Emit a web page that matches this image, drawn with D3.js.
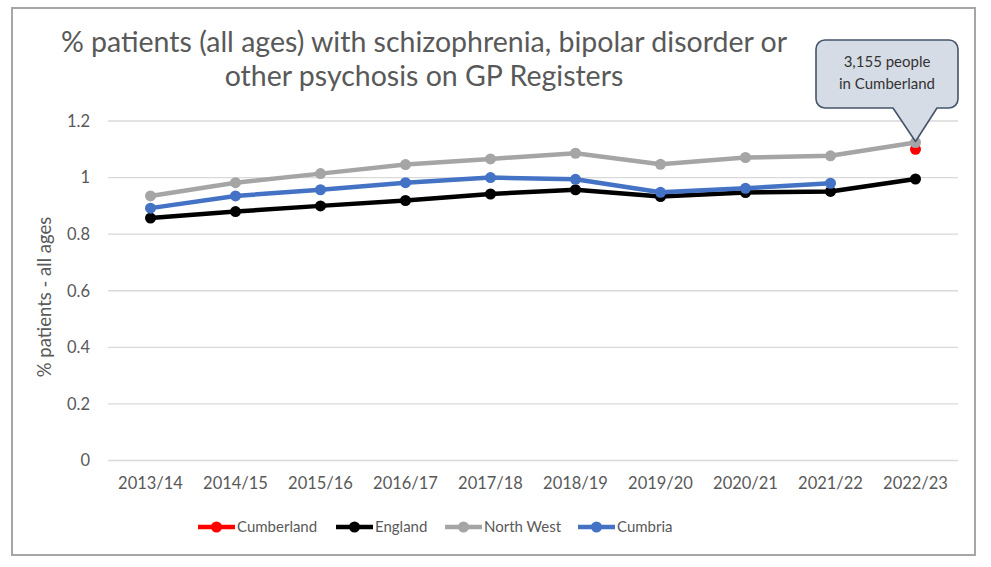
<!DOCTYPE html>
<html><head><meta charset="utf-8">
<script src="https://cdn.jsdelivr.net/npm/d3@7"></script>
<style>body{margin:0;background:#fff}svg{display:block}</style>
</head><body>
<svg id="chart" width="991" height="567"></svg>
<script>
const categories = ["2013/14","2014/15","2015/16","2016/17","2017/18","2018/19","2019/20","2020/21","2021/22","2022/23"];
const cumberland = [null,null,null,null,null,null,null,null,null,1.10];
const england    = [0.857,0.880,0.900,0.919,0.942,0.957,0.933,0.947,0.951,0.995];
const northWest  = [0.935,0.982,1.014,1.046,1.066,1.086,1.047,1.071,1.077,1.124];
const cumbria    = [0.892,0.935,0.957,0.982,1.000,0.994,0.948,0.962,0.980,null];
const yTicks = [0,0.2,0.4,0.6,0.8,1,1.2];
const titleLines = ["% patients (all ages) with schizophrenia, bipolar disorder or","other psychosis on GP Registers"];
const yLabel = "% patients - all ages";
const calloutLines = ["3,155 people","in Cumberland"];

const series = [
  {name:"Cumberland", values:cumberland, color:"#ff0000"},
  {name:"England", values:england, color:"#000000"},
  {name:"North West", values:northWest, color:"#a5a5a5"},
  {name:"Cumbria", values:cumbria, color:"#4472c4"}
];

const font = "Lato, 'Open Sans', sans-serif";
const txt = "#595959";
const svg = d3.select("#chart");

// frame
svg.append("rect").attr("x",12).attr("y",8).attr("width",963).attr("height",547)
  .attr("fill","#fff").attr("stroke","#a6a6a6").attr("stroke-width",2);

const x = d3.scaleBand().domain(categories).range([108,958]);
const y = d3.scaleLinear().domain([0,1.2]).range([460.5,121]);

// gridlines
svg.append("g").selectAll("line").data(yTicks).join("line")
  .attr("x1",108).attr("x2",958)
  .attr("y1",d=>y(d)).attr("y2",d=>y(d))
  .attr("stroke","#d9d9d9").attr("stroke-width",1.3);

// y axis
const yAxis = svg.append("g").attr("transform","translate(108,0)")
  .call(d3.axisLeft(y).tickValues(yTicks).tickSize(0).tickPadding(18).tickFormat(d=>d3.format("")(d)));
yAxis.select(".domain").remove();
yAxis.selectAll("text").attr("font-family",font).attr("font-size",16.5).attr("fill",txt);

// x axis
const xAxis = svg.append("g").attr("transform","translate(0,460.5)")
  .call(d3.axisBottom(x).tickSize(0).tickPadding(17));
xAxis.select(".domain").remove();
xAxis.selectAll("text").attr("font-family",font).attr("font-size",16.5).attr("fill",txt);

// y label
svg.append("text").attr("transform","translate(51,297) rotate(-90)")
  .attr("text-anchor","middle").attr("font-family",font).attr("font-size",18.5).attr("fill",txt)
  .text(yLabel);

// title
svg.append("text").attr("font-family",font).attr("font-size",28.5).attr("fill",txt)
  .attr("text-anchor","middle")
  .selectAll("tspan").data(titleLines).join("tspan")
  .attr("x",424).attr("y",(d,i)=>52+i*34).text(d=>d);

// lines
const line = d3.line()
  .defined(d=>d.v!=null)
  .x(d=>x(d.c)+x.bandwidth()/2).y(d=>y(d.v));
series.forEach(s=>{
  const pts = categories.map((c,i)=>({c, v:s.values[i]}));
  svg.append("path").datum(pts).attr("d",line).attr("fill","none")
    .attr("stroke",s.color).attr("stroke-width",4.5).attr("stroke-linejoin","round");
  svg.append("g").selectAll("circle").data(pts.filter(d=>d.v!=null)).join("circle")
    .attr("cx",d=>x(d.c)+x.bandwidth()/2).attr("cy",d=>y(d.v)).attr("r",5.5)
    .attr("fill",s.color);
});

// callout
const tipX = x(categories[9])+x.bandwidth()/2, tipY = y(northWest[9]);
const bx0=816, bx1=958, by0=40, by1=108, r=9;
const px0=893, px1=937;
const path = d3.path();
path.moveTo(bx0+r,by0);
path.lineTo(bx1-r,by0); path.arcTo(bx1,by0,bx1,by0+r,r);
path.lineTo(bx1,by1-r); path.arcTo(bx1,by1,bx1-r,by1,r);
path.lineTo(px1,by1); path.lineTo(tipX,tipY-1); path.lineTo(px0,by1);
path.lineTo(bx0+r,by1); path.arcTo(bx0,by1,bx0,by1-r,r);
path.lineTo(bx0,by0+r); path.arcTo(bx0,by0,bx0+r,by0,r);
path.closePath();
svg.append("path").attr("d",path.toString()).attr("fill","#d6dce5")
  .attr("stroke","#44546a").attr("stroke-width",1.6).attr("stroke-linejoin","round");
svg.append("text").attr("font-family",font).attr("font-size",15).attr("fill","#333")
  .attr("text-anchor","middle")
  .selectAll("tspan").data(calloutLines).join("tspan")
  .attr("x",887).attr("y",(d,i)=>67+i*21.5).text(d=>d);

// legend
const legX = [198,336,445,578];
const lg = svg.append("g");
series.forEach((s,i)=>{
  const g = lg.append("g").attr("transform",`translate(${legX[i]},527)`);
  g.append("line").attr("x1",0).attr("x2",37).attr("stroke",s.color).attr("stroke-width",4.5);
  g.append("circle").attr("cx",18.5).attr("r",5.5).attr("fill",s.color);
  g.append("text").attr("x",39).attr("dy","0.35em").attr("font-family",font).attr("font-size",15)
    .attr("fill",txt).text(s.name);
});
</script>
</body></html>
